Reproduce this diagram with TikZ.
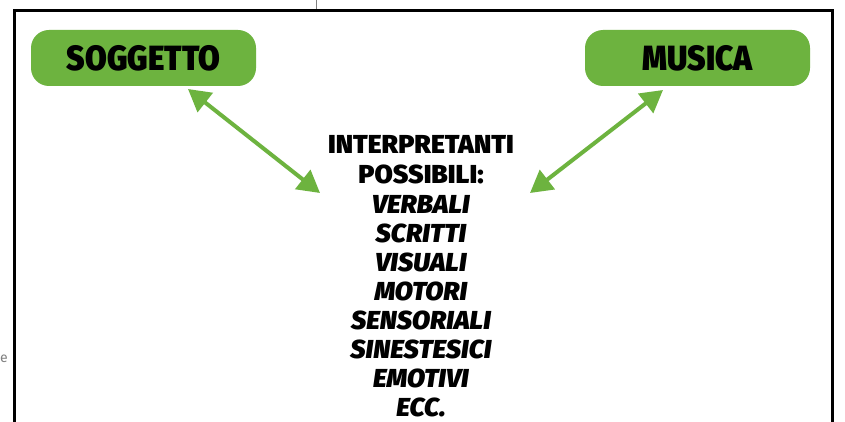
\documentclass[tikz,border=0pt]{standalone}
\usepackage{fontspec}
\setmainfont{Fira Sans}
\newfontfamily\heavy[FakeStretch=0.9,BoldFont={Fira Sans Black},BoldItalicFont={Fira Sans Black Italic}]{Fira Sans}
\newfontfamily\heavywide[FakeStretch=1.02,BoldFont={Fira Sans Black},BoldItalicFont={Fira Sans Black Italic}]{Fira Sans}
\usetikzlibrary{arrows.meta}
\definecolor{leaf}{HTML}{6DB33F}
\tikzset{
  box/.style={fill=leaf, rounded corners=18pt, minimum width=225pt, minimum height=56pt, inner sep=0pt,
    font=\heavy\bfseries\fontsize{35}{35}\selectfont},
  conn/.style={leaf, line width=4pt, {Triangle[length=22pt,width=24pt]}-{Triangle[length=22pt,width=24pt]}},
  head/.style={anchor=base, inner sep=0pt, font=\heavywide\bfseries\fontsize{26}{26}\selectfont},
  item/.style={anchor=base, inner sep=0pt, font=\heavywide\bfseries\itshape\fontsize{26}{26}\selectfont},
  frame/.style={draw=black, line width=3pt}
}
\begin{document}
\begin{tikzpicture}[x=1pt,y=-1pt]
\useasboundingbox (0,0) rectangle (845,422);
\fill[white] (0,0) rectangle (845,422);
\draw[gray, line width=1pt] (316,0) -- (316,10);
\draw[frame] (14,440) -- (14,11) -- (832,11) -- (832,440);
\node[gray, anchor=base west, font=\fontsize{14}{14}\selectfont, inner sep=0pt] (frag) at (0,362) {e};
\node[box] (sog) at (143.5,58) {SOGGETTO};
\node[box] (mus) at (697.5,58) {MUSICA};
\node[head] (l0) at (421,154) {INTERPRETANTI};
\node[head] (l1) at (421,183.5) {POSSIBILI:};
\node[item] (l2) at (421,213) {VERBALI};
\node[item] (l3) at (421,242.1) {SCRITTI};
\node[item] (l4) at (421,271.2) {VISUALI};
\node[item] (l5) at (421,300.3) {MOTORI};
\node[item] (l6) at (421,329.4) {SENSORIALI};
\node[item] (l7) at (421,358.5) {SINESTESICI};
\node[item] (l8) at (421,387.6) {EMOTIVI};
\node[item] (l9) at (421,416.5) {ECC.};
\coordinate (s1) at (188,89);
\coordinate (s2) at (320,193);
\coordinate (m1) at (663,90);
\coordinate (m2) at (530,193);
\draw[conn] (s1) -- (s2);
\draw[conn] (m1) -- (m2);
\end{tikzpicture}
\end{document}
